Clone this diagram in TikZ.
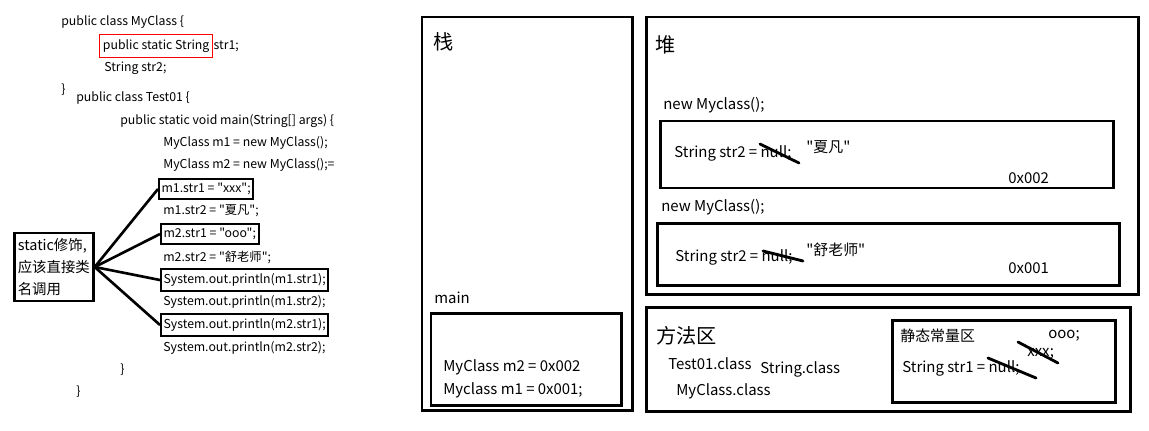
\documentclass[tikz,border=0pt]{standalone}
\usepackage{fontspec}
\setmainfont{Noto Sans CJK SC}[Ligatures=TeXOff]
\usetikzlibrary{positioning}

\begin{document}
\begin{tikzpicture}[x=0.02cm, y=-0.02cm,
                    every node/.style={inner sep=0pt, anchor=west},
                    code/.style={font=\fontsize{7}{8}\selectfont},
                    txt/.style={font=\fontsize{8.5}{10}\selectfont},
                    big/.style={font=\fontsize{11.5}{13}\selectfont},
                    hl/.style={draw, line width=1.1pt, inner xsep=1.5pt, inner ysep=2.5pt},
                    frame/.style={draw, line width=1.7pt},
                    strike/.style={line width=1.6pt, line cap=round},
                    link/.style={line width=1.5pt}]
\useasboundingbox (0,0) rectangle (1149,430);

% source code
\node[code] (c1) at (61,22) {public class MyClass \{};
\node[code, draw=red, line width=0.5pt, inner xsep=2pt, inner ysep=3pt] (red) at (99,46) {public static String};
\node[code, right=0pt of red] (c2) {str1;};
\node[code] (c3) at (104,68) {String str2;};
\node[code] (c4) at (61,90) {\}};
\node[code] (c5) at (76,98) {public class Test01 \{};
\node[code] (c6) at (120,121) {public static void main(String[] args) \{};
\node[code] (c7) at (163,143) {MyClass m1 = new MyClass();};
\node[code] (c8) at (163,165) {MyClass m2 = new MyClass();=};
\node[code, hl] (s1) at (158,189) {m1.str1 = "xxx";};
\node[code] (c9) at (163,211) {m1.str2 = "夏凡";};
\node[code, hl] (s2) at (160,234) {m2.str1 = "ooo";};
\node[code] (c10) at (163,257) {m2.str2 = "舒老师";};
\node[code, hl] (s3) at (160,280) {System.out.println(m1.str1);};
\node[code] (c11) at (163,302) {System.out.println(m1.str2);};
\node[code, hl] (s4) at (160,325) {System.out.println(m2.str1);};
\node[code] (c12) at (163,348) {System.out.println(m2.str2);};
\node[code] (c13) at (120,370) {\}};
\node[code] (c14) at (76,392) {\}};

% note
\node[txt, draw, line width=1.5pt, align=left, inner xsep=2pt, inner ysep=3pt,
      font=\fontsize{8.2}{12.5}\selectfont] (note) at (13,267) {static修饰,\\应该直接类\\名调用};
\draw[link] (note.east) -- (s1.west);
\draw[link] (note.east) -- (s2.west);
\draw[link] (note.east) -- (s3.west);
\draw[link] (note.east) -- (s4.west);

% stack
\draw[frame] (422,17) rectangle (632,410);
\node[big] (stack) at (433,42) {栈};
\node[txt] (main) at (434,298) {main};
\draw[frame] (431,313) rectangle (621,405);
\node[txt] (m2) at (443,367) {MyClass m2 = 0x002};
\node[txt] (m1) at (443,390) {Myclass m1 = 0x001;};

% heap
\draw[frame] (646,17) rectangle (1138,294);
\node[big] (heap) at (655,45) {堆};
\node[txt] (new1) at (663,105) {new Myclass();};
\draw[frame] (660,121) rectangle (1113,188);
\node[txt] (o1) at (674,153) {String str2 = null;};
\node[txt] (v1) at (806,147) {"夏凡"};
\node[txt] (a1) at (1008,178) {0x002};
\draw[strike] (760,144) -- (799,163);
\node[txt] (new2) at (661,207) {new MyClass();};
\draw[frame] (657,223) rectangle (1119,285);
\node[txt] (o2) at (675,257) {String str2 = null;};
\node[txt] (v2) at (806,250) {"舒老师"};
\node[txt] (a2) at (1008,268) {0x001};
\draw[strike] (763,251) -- (803,261);

% method area
\draw[frame] (646,307) rectangle (1130,411);
\node[big] (method) at (656,336) {方法区};
\node[txt] (t1) at (668,364) {Test01.class};
\node[txt] (t2) at (760,369) {String.class};
\node[txt] (t3) at (676,391) {MyClass.class};
\draw[frame] (892,320) rectangle (1115,402);
\node[txt] (pool) at (900,336) {静态常量区};
\node[txt] (p1) at (1048,336) {ooo;};
\node[txt] (p2) at (1027,354) {xxx;};
\node[txt] (p3) at (902,368) {String str1 = null;};
\draw[strike] (988,358) -- (1036,378);
\draw[strike] (1018,342) -- (1058,363);
\end{tikzpicture}
\end{document}
